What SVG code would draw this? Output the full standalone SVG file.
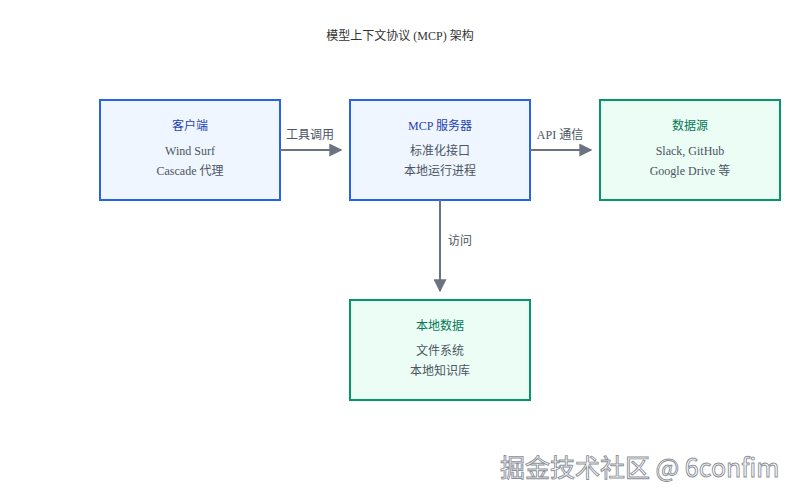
<svg xmlns="http://www.w3.org/2000/svg" width="800" height="500" viewBox="0 0 800 500">
<defs>
<style>
.t{font-family:"Liberation Serif","Noto Sans CJK SC",serif;font-size:12px;text-anchor:middle}
.blue rect{fill:#eff6ff;stroke:#2563eb;stroke-width:2}
.green rect{fill:#ecfdf5;stroke:#059669;stroke-width:2}
.blue .h{fill:#1e40af}
.green .h{fill:#047857}
.b{fill:#4b5563}
.c line{stroke:#6b7280;stroke-width:2}
.lbl{fill:#4b5563}
</style>
<marker id="ah" viewBox="0 0 10 10" refX="9" refY="5" markerWidth="6.5" markerHeight="6.5" markerUnits="strokeWidth" orient="auto">
<path d="M0,0 L10,5 L0,10 z" fill="#6b7280"/>
</marker>
</defs>
<rect width="800" height="500" fill="#ffffff"/>
<text class="t" x="400" y="40" fill="#333">模型上下文协议 (MCP) 架构</text>
<g id="client" class="blue">
<rect x="100" y="100" width="180" height="100"/>
<text class="t h" x="190" y="130">客户端</text>
<text class="t b" x="190" y="155">Wind Surf</text>
<text class="t b" x="190" y="175">Cascade 代理</text>
</g>
<g id="server" class="blue">
<rect x="350" y="100" width="180" height="100"/>
<text class="t h" x="440" y="130">MCP 服务器</text>
<text class="t b" x="440" y="155">标准化接口</text>
<text class="t b" x="440" y="175">本地运行进程</text>
</g>
<g id="datasource" class="green">
<rect x="600" y="100" width="180" height="100"/>
<text class="t h" x="690" y="130">数据源</text>
<text class="t b" x="690" y="155">Slack, GitHub</text>
<text class="t b" x="690" y="175">Google Drive 等</text>
</g>
<g id="localdata" class="green">
<rect x="350" y="300" width="180" height="100"/>
<text class="t h" x="440" y="330">本地数据</text>
<text class="t b" x="440" y="355">文件系统</text>
<text class="t b" x="440" y="375">本地知识库</text>
</g>
<g id="connectors" class="c">
<line x1="280" y1="150" x2="341" y2="150" marker-end="url(#ah)"/>
<text class="t lbl" x="310" y="139">工具调用</text>
<line x1="530" y1="150" x2="591" y2="150" marker-end="url(#ah)"/>
<text class="t lbl" x="560" y="139">API 通信</text>
<line x1="440" y1="200" x2="440" y2="291" marker-end="url(#ah)"/>
<text class="t lbl" x="460" y="245">访问</text>
</g>
<text x="500" y="477" font-family="'Noto Sans CJK SC','Noto Sans',sans-serif" font-size="25" fill="#ffffff" stroke="#8a8f98" stroke-width="0.9">掘金技术社区 @ 6confim</text>
</svg>
